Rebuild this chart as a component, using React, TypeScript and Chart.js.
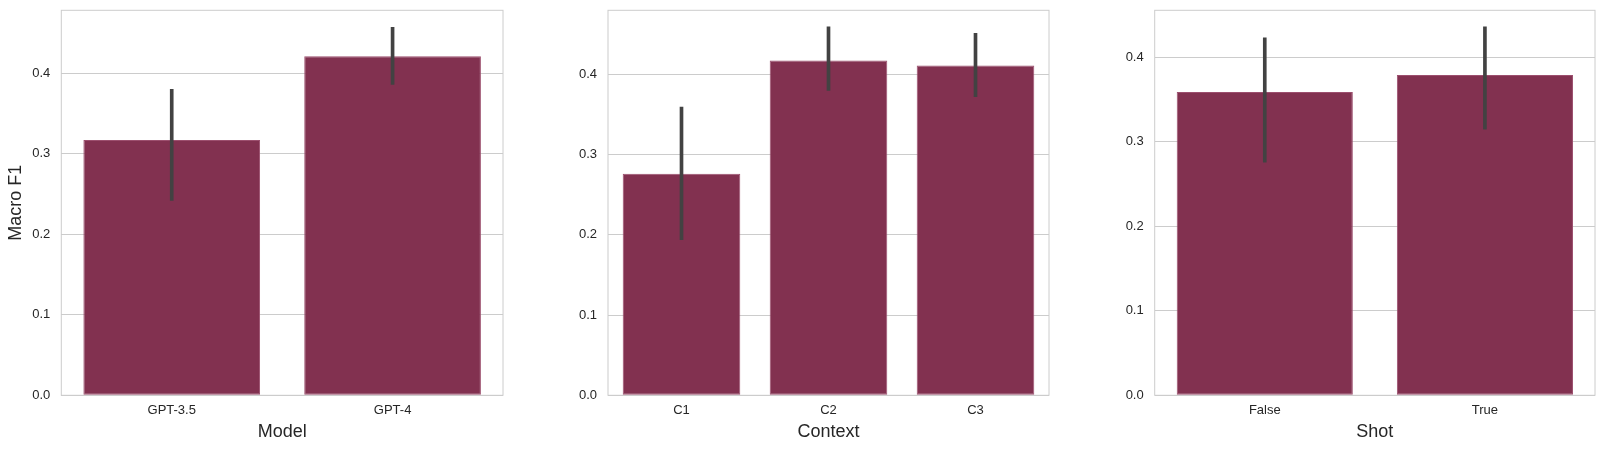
import React, { useEffect, useRef } from "react";
import { Chart, registerables } from "chart.js";

Chart.register(...registerables);

// ---- data ----
const modelCategories = ["GPT-3.5", "GPT-4"];
const modelValues = [0.317, 0.421];
const modelErrLow = [0.242, 0.386];
const modelErrHigh = [0.38, 0.457];

const contextCategories = ["C1", "C2", "C3"];
const contextValues = [0.276, 0.417, 0.411];
const contextErrLow = [0.194, 0.38, 0.372];
const contextErrHigh = [0.359, 0.459, 0.451];

const shotCategories = ["False", "True"];
const shotValues = [0.359, 0.379];
const shotErrLow = [0.276, 0.315];
const shotErrHigh = [0.423, 0.436];

const yTickValues = [0, 0.1, 0.2, 0.3, 0.4];
const yMaxModel = 0.478;
const yMaxContext = 0.4797;
const yMaxShot = 0.4556;

const FONT = "Arial, 'Liberation Sans', sans-serif";
const TEXT = "#262626";
const BAR_FILL = "#823150";
const BAR_EDGE = "#9c4f6e";
const ERR = "#424242";
const GRID = "#cccccc";

const framePlugin = {
  id: "frame",
  beforeDatasetsDraw(chart: any) {
    const { ctx, chartArea: a } = chart;
    ctx.save();
    ctx.strokeStyle = GRID;
    ctx.lineWidth = 1;
    ctx.strokeRect(a.left, a.top, a.right - a.left, a.bottom - a.top);
    ctx.restore();
  },
};

type PanelProps = {
  left: number;
  width: number;
  yAxisWidth: number;
  yMax: number;
  categories: string[];
  values: number[];
  errLow: number[];
  errHigh: number[];
  xTitle: string;
  yTitle?: string;
};

function Panel(p: PanelProps) {
  const ref = useRef<HTMLCanvasElement | null>(null);
  useEffect(() => {
    if (!ref.current) return;
    const chart = new Chart(ref.current, {
      type: "bar",
      data: {
        labels: p.categories,
        datasets: [
          {
            data: p.errLow.map((l, i) => [l, p.errHigh[i]]) as any,
            backgroundColor: ERR,
            borderWidth: 0,
            barThickness: 3,
            grouped: false,
            order: 0,
          } as any,
          {
            data: p.values,
            backgroundColor: BAR_FILL,
            borderColor: BAR_EDGE,
            borderWidth: 1,
            borderSkipped: false,
            barPercentage: 0.8,
            categoryPercentage: 1,
            grouped: false,
            order: 1,
          } as any,
        ],
      },
      options: {
        responsive: false,
        animation: false,
        events: [],
        layout: { padding: { left: 0, right: 1, top: 10.3, bottom: 0 } },
        plugins: {
          legend: { display: false },
          tooltip: { enabled: false },
        },
        scales: {
          x: {
            type: "category",
            offset: true,
            grid: { display: false, drawTicks: false },
            border: { display: false },
            ticks: {
              color: TEXT,
              font: { family: FONT, size: 13 },
              padding: 7,
            },
            title: {
              display: true,
              text: p.xTitle,
              color: TEXT,
              font: { family: FONT, size: 18 },
              padding: { top: 0, bottom: 9 },
            },
            afterFit: (s: any) => {
              s.height = 56.7;
              s.paddingLeft = 0;
              s.paddingRight = 0;
            },
          },
          y: {
            type: "linear",
            min: 0,
            max: p.yMax,
            grid: { color: GRID, lineWidth: 1, drawTicks: false },
            border: { display: false },
            ticks: {
              color: TEXT,
              font: { family: FONT, size: 13 },
              padding: 11,
              callback: (v: any) => Number(v).toFixed(1),
            },
            afterBuildTicks: (s: any) => {
              s.ticks = yTickValues.map((v) => ({ value: v }));
            },
            title: {
              display: !!p.yTitle,
              text: p.yTitle || "",
              color: TEXT,
              font: { family: FONT, size: 18 },
              padding: { top: 5, bottom: 0 },
            },
            afterFit: (s: any) => {
              s.width = p.yAxisWidth;
              s.paddingTop = 0;
              s.paddingBottom = 0;
            },
          },
        },
      } as any,
      plugins: [framePlugin],
    });
    return () => chart.destroy();
  }, []);
  return (
    <canvas
      ref={ref}
      width={p.width}
      height={452}
      style={{ position: "absolute", left: p.left, top: 0, width: p.width, height: 452 }}
    />
  );
}

export default function App() {
  return (
    <div
      style={{
        position: "fixed",
        left: 0,
        top: 0,
        width: 1622,
        height: 452,
        background: "#ffffff",
      }}
    >
      <Panel
        left={0}
        width={504}
        yAxisWidth={61.3}
        yMax={yMaxModel}
        categories={modelCategories}
        values={modelValues}
        errLow={modelErrLow}
        errHigh={modelErrHigh}
        xTitle="Model"
        yTitle="Macro F1"
      />
      <Panel
        left={540}
        width={510}
        yAxisWidth={68}
        yMax={yMaxContext}
        categories={contextCategories}
        values={contextValues}
        errLow={contextErrLow}
        errHigh={contextErrHigh}
        xTitle="Context"
      />
      <Panel
        left={1080}
        width={516}
        yAxisWidth={74.7}
        yMax={yMaxShot}
        categories={shotCategories}
        values={shotValues}
        errLow={shotErrLow}
        errHigh={shotErrHigh}
        xTitle="Shot"
      />
    </div>
  );
}
